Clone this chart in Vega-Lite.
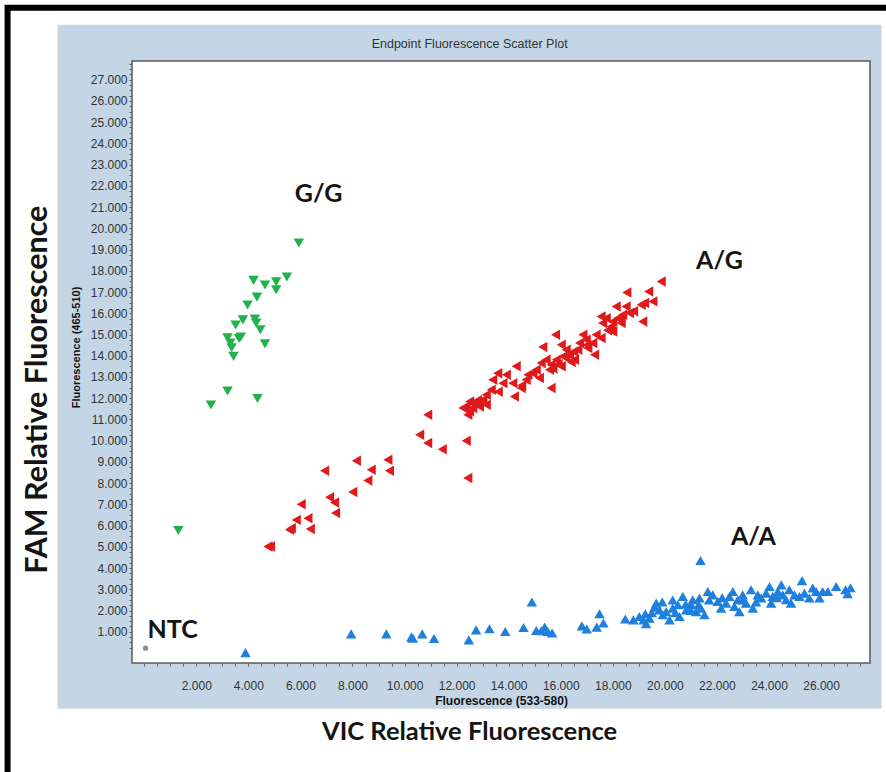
{
  "$schema": "https://vega.github.io/schema/vega-lite/v6.json",
  "width": 738,
  "height": 602,
  "autosize": {"type": "none"},
  "padding": {"left": 132, "top": 61, "right": 16, "bottom": 109},
  "background": "#c4d6e5",
  "config": {"view": {"stroke": null}, "axis": {"labelOverlap": false, "labelFlush": false, "labelBound": false}},
  "datasets": {
    "wells": [
      {"genotype": "G/G", "vic": 5.94, "fam": 19.31},
      {"genotype": "G/G", "vic": 4.20, "fam": 17.55},
      {"genotype": "G/G", "vic": 4.64, "fam": 17.33},
      {"genotype": "G/G", "vic": 5.07, "fam": 17.48},
      {"genotype": "G/G", "vic": 5.07, "fam": 17.11},
      {"genotype": "G/G", "vic": 5.48, "fam": 17.71},
      {"genotype": "G/G", "vic": 4.33, "fam": 16.76},
      {"genotype": "G/G", "vic": 3.97, "fam": 16.39},
      {"genotype": "G/G", "vic": 3.79, "fam": 15.69},
      {"genotype": "G/G", "vic": 3.51, "fam": 15.45},
      {"genotype": "G/G", "vic": 4.25, "fam": 15.73},
      {"genotype": "G/G", "vic": 4.30, "fam": 15.54},
      {"genotype": "G/G", "vic": 4.46, "fam": 15.22},
      {"genotype": "G/G", "vic": 3.20, "fam": 14.85},
      {"genotype": "G/G", "vic": 3.71, "fam": 14.88},
      {"genotype": "G/G", "vic": 3.64, "fam": 14.81},
      {"genotype": "G/G", "vic": 3.31, "fam": 14.60},
      {"genotype": "G/G", "vic": 3.36, "fam": 14.38},
      {"genotype": "G/G", "vic": 3.43, "fam": 13.97},
      {"genotype": "G/G", "vic": 4.64, "fam": 14.56},
      {"genotype": "G/G", "vic": 3.20, "fam": 12.34},
      {"genotype": "G/G", "vic": 2.56, "fam": 11.68},
      {"genotype": "G/G", "vic": 4.35, "fam": 11.99},
      {"genotype": "G/G", "vic": 1.31, "fam": 5.77},
      {"genotype": "A/G", "vic": 19.86, "fam": 17.50},
      {"genotype": "A/G", "vic": 18.54, "fam": 16.98},
      {"genotype": "A/G", "vic": 19.38, "fam": 17.03},
      {"genotype": "A/G", "vic": 19.22, "fam": 16.48},
      {"genotype": "A/G", "vic": 19.54, "fam": 16.56},
      {"genotype": "A/G", "vic": 19.09, "fam": 16.40},
      {"genotype": "A/G", "vic": 18.13, "fam": 16.32},
      {"genotype": "A/G", "vic": 18.51, "fam": 16.32},
      {"genotype": "A/G", "vic": 18.64, "fam": 16.01},
      {"genotype": "A/G", "vic": 18.38, "fam": 15.93},
      {"genotype": "A/G", "vic": 18.19, "fam": 15.77},
      {"genotype": "A/G", "vic": 18.00, "fam": 15.61},
      {"genotype": "A/G", "vic": 17.75, "fam": 15.77},
      {"genotype": "A/G", "vic": 17.61, "fam": 15.54},
      {"genotype": "A/G", "vic": 18.32, "fam": 15.54},
      {"genotype": "A/G", "vic": 17.94, "fam": 15.38},
      {"genotype": "A/G", "vic": 17.55, "fam": 15.85},
      {"genotype": "A/G", "vic": 19.15, "fam": 15.61},
      {"genotype": "A/G", "vic": 18.00, "fam": 15.14},
      {"genotype": "A/G", "vic": 17.55, "fam": 14.83},
      {"genotype": "A/G", "vic": 17.36, "fam": 14.99},
      {"genotype": "A/G", "vic": 16.85, "fam": 14.99},
      {"genotype": "A/G", "vic": 16.98, "fam": 14.75},
      {"genotype": "A/G", "vic": 17.23, "fam": 14.60},
      {"genotype": "A/G", "vic": 17.30, "fam": 14.05},
      {"genotype": "A/G", "vic": 17.04, "fam": 14.36},
      {"genotype": "A/G", "vic": 16.72, "fam": 14.60},
      {"genotype": "A/G", "vic": 16.66, "fam": 14.28},
      {"genotype": "A/G", "vic": 16.53, "fam": 13.81},
      {"genotype": "A/G", "vic": 16.34, "fam": 14.05},
      {"genotype": "A/G", "vic": 16.21, "fam": 14.28},
      {"genotype": "A/G", "vic": 16.08, "fam": 13.97},
      {"genotype": "A/G", "vic": 16.02, "fam": 14.52},
      {"genotype": "A/G", "vic": 15.80, "fam": 14.99},
      {"genotype": "A/G", "vic": 15.31, "fam": 14.41},
      {"genotype": "A/G", "vic": 15.83, "fam": 13.81},
      {"genotype": "A/G", "vic": 16.02, "fam": 13.50},
      {"genotype": "A/G", "vic": 15.63, "fam": 13.58},
      {"genotype": "A/G", "vic": 15.57, "fam": 13.34},
      {"genotype": "A/G", "vic": 15.44, "fam": 13.81},
      {"genotype": "A/G", "vic": 15.25, "fam": 13.66},
      {"genotype": "A/G", "vic": 15.06, "fam": 13.34},
      {"genotype": "A/G", "vic": 14.93, "fam": 13.18},
      {"genotype": "A/G", "vic": 14.74, "fam": 13.10},
      {"genotype": "A/G", "vic": 15.18, "fam": 12.95},
      {"genotype": "A/G", "vic": 15.63, "fam": 12.48},
      {"genotype": "A/G", "vic": 14.67, "fam": 12.87},
      {"genotype": "A/G", "vic": 14.48, "fam": 12.48},
      {"genotype": "A/G", "vic": 14.29, "fam": 13.50},
      {"genotype": "A/G", "vic": 14.22, "fam": 12.08},
      {"genotype": "A/G", "vic": 14.16, "fam": 12.71},
      {"genotype": "A/G", "vic": 13.91, "fam": 13.10},
      {"genotype": "A/G", "vic": 13.78, "fam": 12.71},
      {"genotype": "A/G", "vic": 13.58, "fam": 13.18},
      {"genotype": "A/G", "vic": 13.39, "fam": 12.87},
      {"genotype": "A/G", "vic": 13.33, "fam": 12.40},
      {"genotype": "A/G", "vic": 13.14, "fam": 12.16},
      {"genotype": "A/G", "vic": 13.01, "fam": 11.93},
      {"genotype": "A/G", "vic": 12.88, "fam": 11.61},
      {"genotype": "A/G", "vic": 12.62, "fam": 11.54},
      {"genotype": "A/G", "vic": 12.50, "fam": 11.38},
      {"genotype": "A/G", "vic": 12.37, "fam": 11.61},
      {"genotype": "A/G", "vic": 12.50, "fam": 11.85},
      {"genotype": "A/G", "vic": 13.14, "fam": 11.69},
      {"genotype": "A/G", "vic": 12.69, "fam": 11.77},
      {"genotype": "A/G", "vic": 12.24, "fam": 11.54},
      {"genotype": "A/G", "vic": 12.43, "fam": 11.22},
      {"genotype": "A/G", "vic": 10.89, "fam": 11.22},
      {"genotype": "A/G", "vic": 10.58, "fam": 10.28},
      {"genotype": "A/G", "vic": 10.89, "fam": 9.89},
      {"genotype": "A/G", "vic": 11.45, "fam": 9.60},
      {"genotype": "A/G", "vic": 12.37, "fam": 10.00},
      {"genotype": "A/G", "vic": 12.43, "fam": 8.24},
      {"genotype": "A/G", "vic": 9.36, "fam": 9.10},
      {"genotype": "A/G", "vic": 9.42, "fam": 8.58},
      {"genotype": "A/G", "vic": 8.15, "fam": 9.05},
      {"genotype": "A/G", "vic": 8.72, "fam": 8.63},
      {"genotype": "A/G", "vic": 8.59, "fam": 8.13},
      {"genotype": "A/G", "vic": 6.93, "fam": 8.58},
      {"genotype": "A/G", "vic": 8.01, "fam": 7.58},
      {"genotype": "A/G", "vic": 7.12, "fam": 7.34},
      {"genotype": "A/G", "vic": 7.31, "fam": 7.09},
      {"genotype": "A/G", "vic": 7.35, "fam": 6.59},
      {"genotype": "A/G", "vic": 6.03, "fam": 7.01},
      {"genotype": "A/G", "vic": 5.84, "fam": 6.27},
      {"genotype": "A/G", "vic": 6.29, "fam": 6.35},
      {"genotype": "A/G", "vic": 5.65, "fam": 5.88},
      {"genotype": "A/G", "vic": 6.38, "fam": 5.84},
      {"genotype": "A/G", "vic": 5.58, "fam": 5.80},
      {"genotype": "A/G", "vic": 4.75, "fam": 5.02},
      {"genotype": "A/G", "vic": 4.85, "fam": 5.02},
      {"genotype": "A/G", "vic": 15.90, "fam": 13.60},
      {"genotype": "A/G", "vic": 16.20, "fam": 13.90},
      {"genotype": "A/G", "vic": 16.50, "fam": 14.20},
      {"genotype": "A/G", "vic": 17.00, "fam": 14.50},
      {"genotype": "A/G", "vic": 16.40, "fam": 13.70},
      {"genotype": "A/G", "vic": 15.70, "fam": 13.40},
      {"genotype": "A/G", "vic": 14.50, "fam": 12.60},
      {"genotype": "A/G", "vic": 13.60, "fam": 12.30},
      {"genotype": "A/G", "vic": 12.80, "fam": 11.90},
      {"genotype": "A/G", "vic": 18.30, "fam": 15.70},
      {"genotype": "A/G", "vic": 18.80, "fam": 16.10},
      {"genotype": "A/G", "vic": 17.80, "fam": 15.20},
      {"genotype": "A/A", "vic": 3.89, "fam": 0.02},
      {"genotype": "A/A", "vic": 7.95, "fam": 0.90},
      {"genotype": "A/A", "vic": 9.30, "fam": 0.90},
      {"genotype": "A/A", "vic": 10.26, "fam": 0.75},
      {"genotype": "A/A", "vic": 10.32, "fam": 0.70},
      {"genotype": "A/A", "vic": 10.68, "fam": 0.90},
      {"genotype": "A/A", "vic": 11.13, "fam": 0.68},
      {"genotype": "A/A", "vic": 12.47, "fam": 0.62},
      {"genotype": "A/A", "vic": 12.75, "fam": 1.09},
      {"genotype": "A/A", "vic": 13.26, "fam": 1.14},
      {"genotype": "A/A", "vic": 13.87, "fam": 1.01},
      {"genotype": "A/A", "vic": 14.57, "fam": 1.20},
      {"genotype": "A/A", "vic": 14.89, "fam": 2.40},
      {"genotype": "A/A", "vic": 15.06, "fam": 1.06},
      {"genotype": "A/A", "vic": 15.25, "fam": 1.05},
      {"genotype": "A/A", "vic": 15.38, "fam": 1.22},
      {"genotype": "A/A", "vic": 15.50, "fam": 1.01},
      {"genotype": "A/A", "vic": 15.67, "fam": 0.94},
      {"genotype": "A/A", "vic": 16.81, "fam": 1.28},
      {"genotype": "A/A", "vic": 17.00, "fam": 1.13},
      {"genotype": "A/A", "vic": 17.49, "fam": 1.85},
      {"genotype": "A/A", "vic": 17.38, "fam": 1.22},
      {"genotype": "A/A", "vic": 17.64, "fam": 1.41},
      {"genotype": "A/A", "vic": 18.48, "fam": 1.60},
      {"genotype": "A/A", "vic": 18.79, "fam": 1.56},
      {"genotype": "A/A", "vic": 19.02, "fam": 1.72},
      {"genotype": "A/A", "vic": 19.18, "fam": 1.56},
      {"genotype": "A/A", "vic": 19.28, "fam": 1.38},
      {"genotype": "A/A", "vic": 19.41, "fam": 1.64},
      {"genotype": "A/A", "vic": 19.25, "fam": 1.85},
      {"genotype": "A/A", "vic": 19.60, "fam": 2.16},
      {"genotype": "A/A", "vic": 19.79, "fam": 2.03},
      {"genotype": "A/A", "vic": 19.67, "fam": 2.35},
      {"genotype": "A/A", "vic": 19.92, "fam": 1.80},
      {"genotype": "A/A", "vic": 20.05, "fam": 1.95},
      {"genotype": "A/A", "vic": 20.18, "fam": 1.56},
      {"genotype": "A/A", "vic": 20.30, "fam": 2.11},
      {"genotype": "A/A", "vic": 20.50, "fam": 2.27},
      {"genotype": "A/A", "vic": 20.56, "fam": 1.72},
      {"genotype": "A/A", "vic": 20.69, "fam": 2.66},
      {"genotype": "A/A", "vic": 20.82, "fam": 2.03},
      {"genotype": "A/A", "vic": 21.01, "fam": 2.27},
      {"genotype": "A/A", "vic": 21.07, "fam": 2.51},
      {"genotype": "A/A", "vic": 21.20, "fam": 1.95},
      {"genotype": "A/A", "vic": 21.33, "fam": 2.59},
      {"genotype": "A/A", "vic": 21.39, "fam": 2.11},
      {"genotype": "A/A", "vic": 21.52, "fam": 1.80},
      {"genotype": "A/A", "vic": 21.30, "fam": 2.27},
      {"genotype": "A/A", "vic": 21.37, "fam": 4.36},
      {"genotype": "A/A", "vic": 21.65, "fam": 2.90},
      {"genotype": "A/A", "vic": 21.84, "fam": 2.74},
      {"genotype": "A/A", "vic": 22.03, "fam": 2.43},
      {"genotype": "A/A", "vic": 22.16, "fam": 2.11},
      {"genotype": "A/A", "vic": 22.35, "fam": 2.35},
      {"genotype": "A/A", "vic": 22.48, "fam": 2.66},
      {"genotype": "A/A", "vic": 22.61, "fam": 2.90},
      {"genotype": "A/A", "vic": 22.67, "fam": 2.19},
      {"genotype": "A/A", "vic": 22.80, "fam": 2.51},
      {"genotype": "A/A", "vic": 22.86, "fam": 1.95},
      {"genotype": "A/A", "vic": 22.99, "fam": 2.74},
      {"genotype": "A/A", "vic": 23.12, "fam": 2.35},
      {"genotype": "A/A", "vic": 23.31, "fam": 2.98},
      {"genotype": "A/A", "vic": 23.38, "fam": 2.11},
      {"genotype": "A/A", "vic": 23.57, "fam": 2.74},
      {"genotype": "A/A", "vic": 23.70, "fam": 2.59},
      {"genotype": "A/A", "vic": 23.89, "fam": 2.82},
      {"genotype": "A/A", "vic": 24.02, "fam": 3.13},
      {"genotype": "A/A", "vic": 24.08, "fam": 2.35},
      {"genotype": "A/A", "vic": 24.14, "fam": 2.66},
      {"genotype": "A/A", "vic": 24.34, "fam": 2.90},
      {"genotype": "A/A", "vic": 24.47, "fam": 3.21},
      {"genotype": "A/A", "vic": 24.53, "fam": 2.74},
      {"genotype": "A/A", "vic": 24.66, "fam": 2.51},
      {"genotype": "A/A", "vic": 24.78, "fam": 2.98},
      {"genotype": "A/A", "vic": 24.85, "fam": 2.35},
      {"genotype": "A/A", "vic": 24.98, "fam": 2.74},
      {"genotype": "A/A", "vic": 25.17, "fam": 2.66},
      {"genotype": "A/A", "vic": 25.27, "fam": 3.41},
      {"genotype": "A/A", "vic": 25.36, "fam": 2.82},
      {"genotype": "A/A", "vic": 25.55, "fam": 2.59},
      {"genotype": "A/A", "vic": 25.68, "fam": 3.06},
      {"genotype": "A/A", "vic": 25.81, "fam": 2.90},
      {"genotype": "A/A", "vic": 25.94, "fam": 2.59},
      {"genotype": "A/A", "vic": 26.06, "fam": 2.90},
      {"genotype": "A/A", "vic": 26.26, "fam": 2.90},
      {"genotype": "A/A", "vic": 26.58, "fam": 3.13},
      {"genotype": "A/A", "vic": 27.02, "fam": 2.79},
      {"genotype": "A/A", "vic": 27.13, "fam": 3.07},
      {"genotype": "A/A", "vic": 26.94, "fam": 2.98},
      {"genotype": "A/A", "vic": 19.90, "fam": 2.40},
      {"genotype": "A/A", "vic": 20.30, "fam": 2.50},
      {"genotype": "A/A", "vic": 20.80, "fam": 2.30},
      {"genotype": "A/A", "vic": 21.00, "fam": 2.00},
      {"genotype": "A/A", "vic": 20.40, "fam": 1.90},
      {"genotype": "A/A", "vic": 19.50, "fam": 1.90},
      {"genotype": "A/A", "vic": 22.20, "fam": 2.60},
      {"genotype": "A/A", "vic": 23.00, "fam": 2.50},
      {"genotype": "A/A", "vic": 23.50, "fam": 2.40},
      {"genotype": "A/A", "vic": 24.30, "fam": 2.60},
      {"genotype": "A/A", "vic": 21.70, "fam": 2.50},
      {"genotype": "NTC", "vic": 0.05, "fam": 0.23}
    ],
    "labels": [
      {"label": "G/G", "vic": 6.70, "fam": 21.63},
      {"label": "A/G", "vic": 22.10, "fam": 18.47},
      {"label": "A/A", "vic": 23.40, "fam": 5.47},
      {"label": "NTC", "vic": 1.09, "fam": 1.09}
    ]
  },
  "layer": [
    {
      "data": {"values": [{}]},
      "mark": {"type": "rect", "fill": "white", "stroke": "#5a5a5a", "strokeWidth": 1.5},
      "encoding": {
        "x": {
          "datum": -0.47, "type": "quantitative",
          "scale": {"domain": [-0.47, 27.88], "nice": false, "zero": false},
          "axis": {
            "title": "Fluorescence (533-580)",
            "titleFont": "Liberation Sans", "titleFontSize": 12, "titleFontWeight": "bold", "titleColor": "#111", "titlePadding": 4,
            "tickCount": 200,
            "values": [0,0.5,1,1.5,2,2.5,3,3.5,4,4.5,5,5.5,6,6.5,7,7.5,8,8.5,9,9.5,10,10.5,11,11.5,12,12.5,13,13.5,14,14.5,15,15.5,16,16.5,17,17.5,18,18.5,19,19.5,20,20.5,21,21.5,22,22.5,23,23.5,24,24.5,25,25.5,26,26.5,27,27.5],
            "labelExpr": "datum.value > 0 && datum.value % 2 === 0 ? format(datum.value, '.3f') : ''",
            "labelFont": "Liberation Sans", "labelFontSize": 12, "labelColor": "#333", "labelPadding": 14,
            "labelOverlap": false, "labelFlush": false, "labelBound": false,
            "tickSize": 3, "tickColor": "#666",
            "domain": false, "grid": false
          }
        },
        "x2": {"datum": 27.88},
        "y": {
          "datum": -0.47, "type": "quantitative",
          "scale": {"domain": [-0.47, 27.88], "nice": false, "zero": false},
          "axis": {
            "title": "Fluorescence (465-510)",
            "titleFont": "Liberation Sans", "titleFontSize": 11, "titleFontWeight": "bold", "titleColor": "#111", "titlePadding": 9, "titleY": 286,
            "tickCount": 200,
            "values": [0.25,0.5,0.75,1,1.25,1.5,1.75,2,2.25,2.5,2.75,3,3.25,3.5,3.75,4,4.25,4.5,4.75,5,5.25,5.5,5.75,6,6.25,6.5,6.75,7,7.25,7.5,7.75,8,8.25,8.5,8.75,9,9.25,9.5,9.75,10,10.25,10.5,10.75,11,11.25,11.5,11.75,12,12.25,12.5,12.75,13,13.25,13.5,13.75,14,14.25,14.5,14.75,15,15.25,15.5,15.75,16,16.25,16.5,16.75,17,17.25,17.5,17.75,18,18.25,18.5,18.75,19,19.25,19.5,19.75,20,20.25,20.5,20.75,21,21.25,21.5,21.75,22,22.25,22.5,22.75,23,23.25,23.5,23.75,24,24.25,24.5,24.75,25,25.25,25.5,25.75,26,26.25,26.5,26.75,27,27.25,27.5,27.75],
            "labelExpr": "datum.value > 0 && datum.value % 1 === 0 ? format(datum.value, '.3f') : ''",
            "labelFont": "Liberation Sans", "labelFontSize": 12, "labelColor": "#333", "labelPadding": 2,
            "labelOverlap": false, "labelFlush": false, "labelBound": false,
            "tickSize": 3, "tickColor": "#666",
            "domain": false, "grid": false
          }
        },
        "y2": {"datum": 27.88}
      }
    },
    {
      "data": {"values": [{}]},
      "mark": {"type": "rect", "fill": "white"},
      "encoding": {
        "x": {"datum": -12, "type": "quantitative", "scale": {"domain": [-0.47, 27.88], "nice": false, "zero": false}},
        "x2": {"datum": -3.33},
        "y": {"datum": -12, "type": "quantitative", "scale": {"domain": [-0.47, 27.88], "nice": false, "zero": false}},
        "y2": {"datum": 40}
      }
    },
    {
      "data": {"values": [{}]},
      "mark": {"type": "rect", "fill": "white"},
      "encoding": {
        "x": {"datum": 28.32, "type": "quantitative", "scale": {"domain": [-0.47, 27.88], "nice": false, "zero": false}},
        "x2": {"datum": 40},
        "y": {"datum": -12, "type": "quantitative", "scale": {"domain": [-0.47, 27.88], "nice": false, "zero": false}},
        "y2": {"datum": 40}
      }
    },
    {
      "data": {"values": [{}]},
      "mark": {"type": "rect", "fill": "white"},
      "encoding": {
        "x": {"datum": -12, "type": "quantitative", "scale": {"domain": [-0.47, 27.88], "nice": false, "zero": false}},
        "x2": {"datum": 40},
        "y": {"datum": 29.59, "type": "quantitative", "scale": {"domain": [-0.47, 27.88], "nice": false, "zero": false}},
        "y2": {"datum": 40}
      }
    },
    {
      "data": {"values": [{}]},
      "mark": {"type": "rect", "fill": "white"},
      "encoding": {
        "x": {"datum": -12, "type": "quantitative", "scale": {"domain": [-0.47, 27.88], "nice": false, "zero": false}},
        "x2": {"datum": 40},
        "y": {"datum": -12, "type": "quantitative", "scale": {"domain": [-0.47, 27.88], "nice": false, "zero": false}},
        "y2": {"datum": -2.63}
      }
    },
    {
      "data": {"values": [{}]},
      "mark": {"type": "rect", "fill": "transparent", "stroke": "black", "strokeWidth": 6},
      "encoding": {
        "x": {"datum": -5.25, "type": "quantitative", "scale": {"domain": [-0.47, 27.88], "nice": false, "zero": false}},
        "x2": {"datum": 40},
        "y": {"datum": 30.39, "type": "quantitative", "scale": {"domain": [-0.47, 27.88], "nice": false, "zero": false}},
        "y2": {"datum": -10}
      }
    },
    {
      "data": {"name": "wells"},
      "mark": {"type": "point", "filled": true, "opacity": 1, "strokeWidth": 0},
      "encoding": {
        "x": {"field": "vic", "type": "quantitative", "scale": {"domain": [-0.47, 27.88], "nice": false, "zero": false}},
        "y": {"field": "fam", "type": "quantitative", "scale": {"domain": [-0.47, 27.88], "nice": false, "zero": false}},
        "shape": {"field": "genotype", "type": "nominal", "scale": {"domain": ["G/G", "A/G", "A/A", "NTC"], "range": ["triangle-down", "triangle-left", "triangle-up", "circle"]}, "legend": null},
        "color": {"field": "genotype", "type": "nominal", "scale": {"domain": ["G/G", "A/G", "A/A", "NTC"], "range": ["#22b24c", "#e0191b", "#1e7fdf", "#8c8c8c"]}, "legend": null},
        "size": {"field": "genotype", "type": "nominal", "scale": {"type": "ordinal", "domain": ["G/G", "A/G", "A/A", "NTC"], "range": [110, 110, 110, 28]}, "legend": null}
      }
    },
    {
      "data": {"name": "labels"},
      "mark": {"type": "text", "font": "Lato", "fontWeight": "bold", "fontSize": 25, "color": "#141414", "align": "center", "baseline": "middle"},
      "encoding": {
        "x": {"field": "vic", "type": "quantitative", "scale": {"domain": [-0.47, 27.88], "nice": false, "zero": false}},
        "y": {"field": "fam", "type": "quantitative", "scale": {"domain": [-0.47, 27.88], "nice": false, "zero": false}},
        "text": {"field": "label"}
      }
    },
    {
      "data": {"values": [{"text": "Endpoint Fluorescence Scatter Plot"}]},
      "mark": {"type": "text", "font": "Liberation Sans", "fontSize": 12.5, "color": "#333", "align": "center", "baseline": "middle"},
      "encoding": {
        "x": {"datum": 12.5, "type": "quantitative", "scale": {"domain": [-0.47, 27.88], "nice": false, "zero": false}},
        "y": {"datum": 28.7, "type": "quantitative", "scale": {"domain": [-0.47, 27.88], "nice": false, "zero": false}},
        "text": {"field": "text"}
      }
    },
    {
      "data": {"values": [{"text": "FAM Relative Fluorescence"}]},
      "mark": {"type": "text", "font": "Lato", "fontWeight": "bold", "fontSize": 30.5, "color": "#141414", "align": "center", "baseline": "middle", "angle": 270},
      "encoding": {
        "x": {"datum": -4.09, "type": "quantitative", "scale": {"domain": [-0.47, 27.88], "nice": false, "zero": false}},
        "y": {"datum": 12.4, "type": "quantitative", "scale": {"domain": [-0.47, 27.88], "nice": false, "zero": false}},
        "text": {"field": "text"}
      }
    },
    {
      "data": {"values": [{"text": "VIC Relative Fluorescence"}]},
      "mark": {"type": "text", "font": "Lato", "fontWeight": "bold", "fontSize": 25.5, "color": "#141414", "align": "center", "baseline": "middle"},
      "encoding": {
        "x": {"datum": 12.5, "type": "quantitative", "scale": {"domain": [-0.47, 27.88], "nice": false, "zero": false}},
        "y": {"datum": -3.71, "type": "quantitative", "scale": {"domain": [-0.47, 27.88], "nice": false, "zero": false}},
        "text": {"field": "text"}
      }
    }
  ]
}
